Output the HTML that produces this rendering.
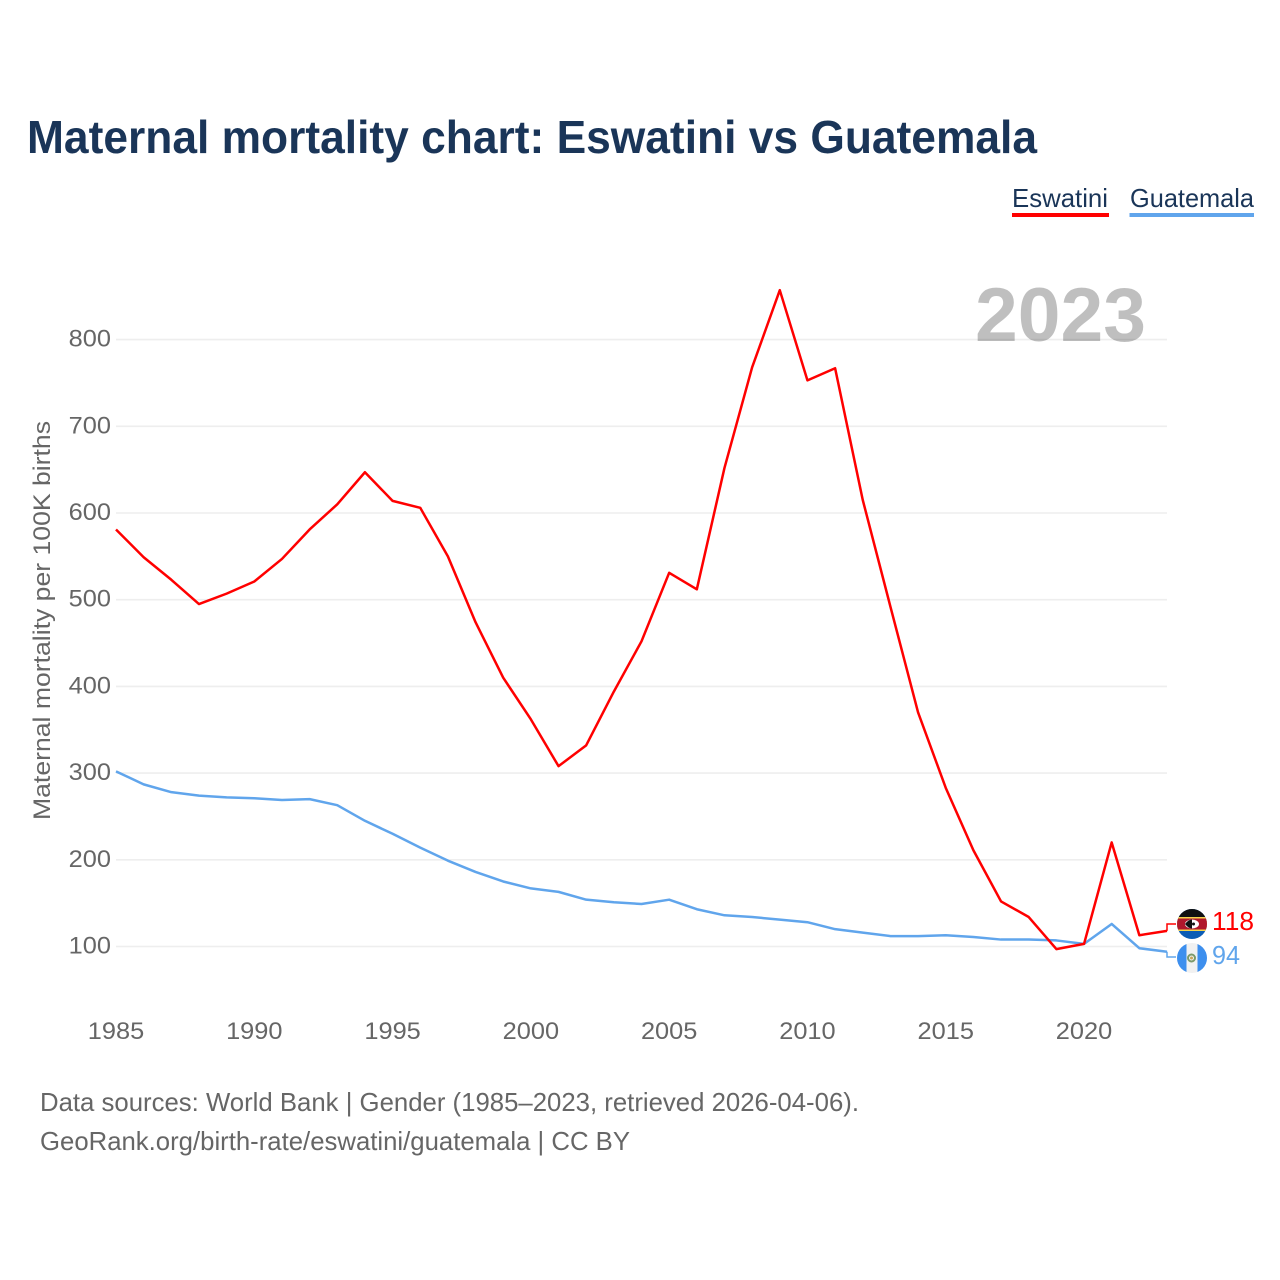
<!DOCTYPE html>
<html lang="en">
<head>
<meta charset="utf-8">
<title>Maternal mortality chart: Eswatini vs Guatemala</title>
<style>
html,body{margin:0;padding:0;background:#fff;}
svg{display:block;font-family:"Liberation Sans",sans-serif;}
</style>
</head>
<body>
<svg id="chart" xmlns="http://www.w3.org/2000/svg" width="1280" height="1280" viewBox="0 0 1280 1280">
  <rect x="0" y="0" width="1280" height="1280" fill="#ffffff"/>
  <text x="27" y="153" font-size="46" font-weight="700" fill="#1a3558" textLength="1010" lengthAdjust="spacingAndGlyphs">Maternal mortality chart: Eswatini vs Guatemala</text>

  <g>
    <g>
      <text x="1012" y="207" font-size="26" fill="#1a3558" textLength="96" lengthAdjust="spacingAndGlyphs">Eswatini</text>
      <rect x="1012" y="213" width="97" height="4" fill="#ff0000"/>
    </g>
    <g>
      <text x="1130" y="207" font-size="26" fill="#1a3558" textLength="124" lengthAdjust="spacingAndGlyphs">Guatemala</text>
      <rect x="1129.5" y="213" width="124.5" height="4" fill="#60a5ec"/>
    </g>
  </g>

  <g id="grid"></g>
  <text x="975" y="341" font-size="76" font-weight="700" fill="#000000" fill-opacity="0.25" textLength="171" lengthAdjust="spacingAndGlyphs">2023</text>
  <g id="yticks"></g>
  <g id="xticks"></g>
  <text transform="translate(50,820) rotate(-90)" x="0" y="0" font-size="24" fill="#666666" textLength="399" lengthAdjust="spacingAndGlyphs">Maternal mortality per 100K births</text>
  <g id="series"></g>

  <defs>
    <clipPath id="clip-sz"><circle cx="1192" cy="924" r="15"/></clipPath>
    <clipPath id="clip-gt"><circle cx="1192" cy="958" r="15"/></clipPath>
  </defs>
  <g clip-path="url(#clip-sz)">
    <rect x="1177" y="909" width="30" height="30" fill="#0b5cb5"/>
    <rect x="1177" y="909" width="30" height="8" fill="#111111"/>
    <rect x="1177" y="917" width="30" height="14" fill="#f5d44c"/>
    <rect x="1177" y="918.5" width="30" height="11" fill="#b0182c"/>
    <ellipse cx="1192" cy="924" rx="7" ry="4.5" fill="#ffffff"/>
    <path d="M1185 924 Q1188.5 919.5 1192 919.5 L1192 928.5 Q1188.5 928.5 1185 924Z" fill="#111111"/>
    <circle cx="1193.5" cy="924" r="1.5" fill="#111111"/>
  </g>
  <g clip-path="url(#clip-gt)">
    <rect x="1177" y="943" width="30" height="30" fill="#f1f1f1"/>
    <rect x="1177" y="943" width="9.5" height="30" fill="#3d8fee"/>
    <rect x="1197.5" y="943" width="9.5" height="30" fill="#3d8fee"/>
    <circle cx="1191.5" cy="958" r="3.5" fill="none" stroke="#7c9a6a" stroke-width="2"/>
    <circle cx="1191.5" cy="958" r="1.5" fill="#c9a75a"/>
  </g>

  <text x="40" y="1111" font-size="26" fill="#666666" textLength="819" lengthAdjust="spacingAndGlyphs">Data sources: World Bank | Gender (1985–2023, retrieved 2026-04-06).</text>
  <text x="40" y="1150" font-size="26" fill="#666666" textLength="590" lengthAdjust="spacingAndGlyphs">GeoRank.org/birth-rate/eswatini/guatemala | CC BY</text>
</svg>
<script>
const startYear = 1985;
const yTickValues = [100, 200, 300, 400, 500, 600, 700, 800];
const xTickValues = [1985, 1990, 1995, 2000, 2005, 2010, 2015, 2020];
const eswatiniValues = [581, 549, 523, 495, 507, 521, 547, 581, 610, 647, 614, 606, 550, 474, 410, 362, 308, 332, 394, 452, 531, 512, 652, 768, 857, 753, 767, 615, 492, 370, 283, 211, 152, 134, 97, 103, 220, 113, 118];
const guatemalaValues = [302, 287, 278, 274, 272, 271, 269, 270, 263, 245, 230, 214, 199, 186, 175, 167, 163, 154, 151, 149, 154, 143, 136, 134, 131, 128, 120, 116, 112, 112, 113, 111, 108, 108, 107, 103, 126, 98, 94];

const NS = 'http://www.w3.org/2000/svg';
function xScale(year) { return 116 + (year - 1985) * (1167 - 116) / 38; }
function yScale(v) { return 946.5 - (v - 100) * 0.867; }
function make(tag, attrs, parent, text) {
  const el = document.createElementNS(NS, tag);
  for (const k in attrs) el.setAttribute(k, attrs[k]);
  if (text !== undefined) el.textContent = text;
  parent.appendChild(el);
  return el;
}
const CHAR_W = 14.1;
const grid = document.getElementById('grid');
const yticks = document.getElementById('yticks');
const xticks = document.getElementById('xticks');
const series = document.getElementById('series');
const chart = document.getElementById('chart');

yTickValues.forEach(function (v) {
  const line = make('line', { x1: 116, x2: 1167, y1: yScale(v), y2: yScale(v), stroke: '#eeeeee', 'stroke-width': 1.6 }, grid);
  
  
  const s = String(v);
  const label = make('text', { x: 111, y: yScale(v) + 7, 'text-anchor': 'end', 'font-size': 24, fill: '#666666', textLength: s.length * CHAR_W, lengthAdjust: 'spacingAndGlyphs' }, yticks, s);
  
  
});

xTickValues.forEach(function (yr) {
  const s = String(yr);
  const label = make('text', { x: xScale(yr), y: 1039, 'text-anchor': 'middle', 'font-size': 24, fill: '#666666', textLength: s.length * CHAR_W, lengthAdjust: 'spacingAndGlyphs' }, xticks, s);
  
  
});

function pathFor(values) {
  return values.map(function (v, i) {
    return (i ? 'L' : 'M') + xScale(startYear + i).toFixed(2) + ' ' + yScale(v).toFixed(2);
  }).join(' ');
}

const guatemalaLine = make('path', { d: pathFor(guatemalaValues), fill: 'none', stroke: '#60a5ec', 'stroke-width': 2.5, 'stroke-linejoin': 'round' }, series);



const eswatiniLine = make('path', { d: pathFor(eswatiniValues), fill: 'none', stroke: '#ff0000', 'stroke-width': 2.5, 'stroke-linejoin': 'round' }, series);



const lastYear = startYear + eswatiniValues.length - 1;
const endX = xScale(lastYear);
const lastE = eswatiniValues[eswatiniValues.length - 1];
const lastG = guatemalaValues[guatemalaValues.length - 1];

const leaderE = make('path', { d: 'M' + endX + ' ' + yScale(lastE) + ' V924 H1176', fill: 'none', stroke: '#ff0000', 'stroke-width': 1.5 }, series);



const leaderG = make('path', { d: 'M' + endX + ' ' + yScale(lastG) + ' V957 H1176', fill: 'none', stroke: '#60a5ec', 'stroke-width': 1.5 }, series);



const labelE = make('text', { x: 1212, y: 930, 'font-size': 26, fill: '#ff0000', textLength: 42, lengthAdjust: 'spacingAndGlyphs' }, chart, String(lastE));



const labelG = make('text', { x: 1212, y: 964, 'font-size': 26, fill: '#60a5ec', textLength: 28, lengthAdjust: 'spacingAndGlyphs' }, chart, String(lastG));


</script>
</body>
</html>
